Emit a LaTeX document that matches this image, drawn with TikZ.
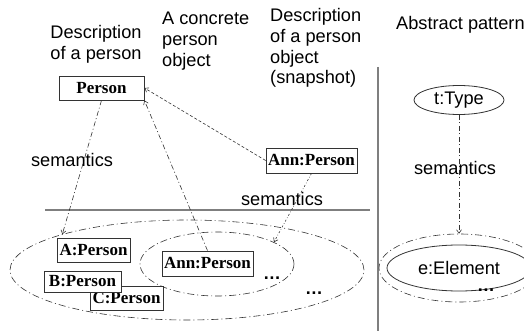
\documentclass[tikz,border=0pt]{standalone}
\usepackage{fontspec}
\usetikzlibrary{shapes.geometric,arrows.meta}
\newfontfamily\arialf{Liberation Sans}
\newfontfamily\tnrf{Liberation Serif}
\definecolor{ln}{HTML}{333333}
\definecolor{sep}{HTML}{7F7F7F}
\tikzset{
  lbl/.style={font=\arialf\fontsize{18.2}{20.7}\selectfont, inner sep=0pt},
  obj/.style={draw=ln, line width=0.8pt, fill=white, font=\tnrf\bfseries\fontsize{17}{20}\selectfont, inner sep=0pt, minimum height=24pt},
  ell/.style={ellipse, draw=ln, line width=0.6pt, inner sep=0pt, dash pattern=on 7pt off 3pt on 1pt off 3pt},
  tip/.style={-{Straight Barb[length=3.5pt,width=5pt]}},
  dd/.style={draw=ln, line width=0.6pt, dash pattern=on 5pt off 2.5pt on 1pt off 2.5pt, tip},
  dsh/.style={draw=ln, line width=0.6pt, dash pattern=on 3pt off 2pt, tip},
  dts/.style={draw=ln, line width=0.6pt, dash pattern=on 2pt off 2pt on 0.6pt off 2pt, tip},
  sepl/.style={draw=sep, line width=1.8pt},
  dotsl/.style={font=\arialf\bfseries\fontsize{17.8}{20}\selectfont, inner sep=0pt}
}
\begin{document}
\begin{tikzpicture}[x=1pt,y=-1pt]
\useasboundingbox (0,0) rectangle (524,331);
% headings
\node[lbl, align=center, anchor=north] (h1) at (96,25) {Description\\of a person};
\node[lbl, align=left, anchor=north west] (h2) at (162,12) {A concrete\\person\\object};
\node[lbl, align=left, anchor=north west] (h3) at (270,8.5) {Description\\of a person\\object\\(snapshot)};
\node[lbl, anchor=base west] (h4) at (396,30) {Abstract pattern};
% separators
\coordinate (hl1) at (45,210);
\coordinate (hl2) at (370,210);
\coordinate (vl1) at (378,67);
\coordinate (vl2) at (378,331);
\draw[sepl] (hl1) -- (hl2);
\draw[sepl] (vl1) -- (vl2);
% ellipses
\node[ell, minimum width=354pt, minimum height=100pt] (outer) at (187,270) {};
\node[ell, minimum width=154pt, minimum height=64pt] (inner) at (217,264) {};
\node[ell, minimum width=160pt, minimum height=68pt] (eouter) at (459,268) {};
\node[ellipse, draw=ln, line width=0.8pt, inner sep=0pt, minimum width=144pt, minimum height=46pt, font=\arialf\fontsize{18.2}{21}\selectfont] (elem) at (459,268) {e:Element};
\node[ellipse, draw=ln, line width=0.8pt, inner sep=0pt, minimum width=90pt, minimum height=29pt, font=\arialf\fontsize{18.2}{21}\selectfont] (type) at (459,100) {t:Type};
% object boxes
\node[obj, minimum width=85pt] (person) at (101.5,88) {Person};
\node[obj, minimum width=91pt, minimum height=25pt] (ann1) at (311.5,160.5) {Ann:Person};
\node[obj, minimum width=91pt, minimum height=25pt] (ann2) at (207.5,263.5) {Ann:Person};
\node[obj, minimum width=73pt] (a) at (93.5,250) {A:Person};
\node[obj, minimum width=73pt] (c) at (126.5,298) {C:Person};
\node[obj, minimum width=77pt, minimum height=21pt] (b) at (82.5,281.5) {B:Person};
% dots
\node[dotsl] (d1) at (272,278) {…};
\node[dotsl] (d2) at (314,293) {…};
\node[dotsl] (d3) at (486,290) {…};
% connectors
\draw[dd] (person.south) -- (outer.164);
\draw[dd] (ann2.north) -- (person.south east);
\draw[dsh] (ann1.west) -- (person.east);
\draw[dts] (ann1.south) -- (inner.21);
\draw[dd] (type.south) -- (eouter.north);
% semantics labels
\node[lbl] (s1) at (72,160) {semantics};
\node[lbl] (s2) at (282,199) {semantics};
\node[lbl] (s3) at (455,168) {semantics};
\end{tikzpicture}
\end{document}
